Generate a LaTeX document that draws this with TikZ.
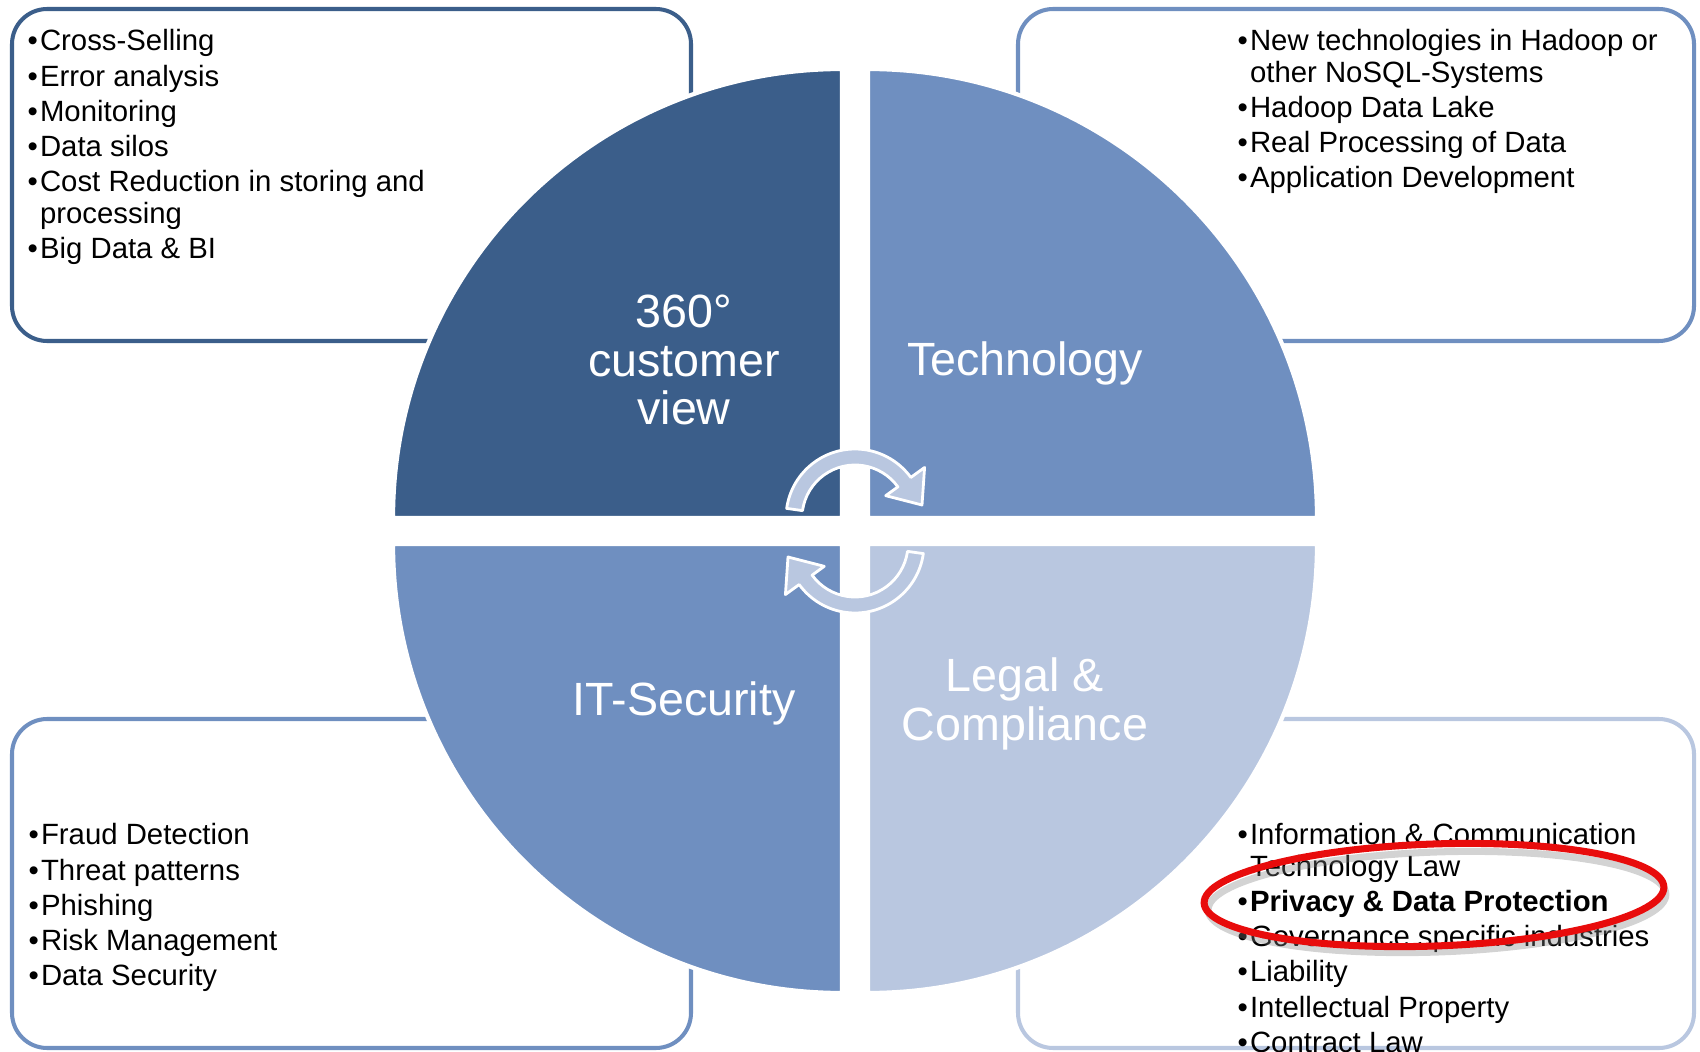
\documentclass[tikz,border=0pt]{standalone}
\usepackage{fontspec}
\setmainfont{Liberation Sans}
\definecolor{quaddark}{RGB}{59,94,138}
\definecolor{quadmid}{RGB}{111,143,192}
\definecolor{quadlight}{RGB}{185,199,224}
\definecolor{ringred}{RGB}{232,12,12}
\newcommand{\nextitem}{\\[1.07pt]}
\newcommand{\wrapped}{\hphantom{•\kern0.6pt}}
\newcommand{\bul}{•\kern0.6pt}

\begin{document}
\begin{tikzpicture}[x=0.01cm,y=0.01cm,
  listbox/.style={rounded corners=10pt, line width=1.15pt},
  quad/.style={draw=white, line width=1.2pt},
  qlabel/.style={white, align=center, inner sep=0, font=\fontsize{13.26}{13.9}\selectfont},
  itemlist/.style={anchor=north west, align=left, inner sep=0, font=\fontsize{8.34}{8.93}\selectfont},
  turnarrow/.style={fill=quadlight, draw=white, line width=0.8pt, line join=round}]
\useasboundingbox (0,0) rectangle (1700,-1052);

\draw[listbox, quaddark] (12,-9) rectangle (691,-341);
\draw[listbox, quadmid] (1018,-9) rectangle (1694,-341);
\draw[listbox, quadmid] (12,-719) rectangle (691,-1048);
\draw[listbox, quadlight] (1018,-719) rectangle (1694,-1048);

\filldraw[quad, fill=quaddark] (842,-518) -- ++(-449,0) arc[start angle=180, end angle=90, radius=449] -- cycle;
\filldraw[quad, fill=quadmid] (868,-518) -- ++(0,449) arc[start angle=90, end angle=0, radius=449] -- cycle;
\filldraw[quad, fill=quadmid] (842,-544) -- ++(-449,0) arc[start angle=180, end angle=270, radius=449] -- cycle;
\filldraw[quad, fill=quadlight] (868,-544) -- ++(449,0) arc[start angle=0, end angle=-90, radius=449] -- cycle;

\foreach \a in {0,180}{
  \begin{scope}[shift={(855,-531)}, rotate=\a, shift={(0,13)}]
    \filldraw[turnarrow] (172:69) arc[start angle=172, end angle=36, radius=69]
      -- (36:86) -- (67,13) -- (36:38) -- (36:53)
      arc[start angle=36, end angle=172, radius=53] -- cycle;
  \end{scope}
}

\node[qlabel] (custview) at (684,-360) {360°\\customer\\view};
\node[qlabel] (tech) at (1025,-363) {Technology};
\node[qlabel] (itsec) at (684,-703) {IT-Security};
\node[qlabel] (legal) at (1025,-704) {Legal \&\\Compliance};

\node[itemlist] (usecases) at (27,-29) {\bul Cross-Selling\nextitem
  \bul Error analysis\nextitem
  \bul Monitoring\nextitem
  \bul Data silos\nextitem
  \bul Cost Reduction in storing and\\
  \wrapped processing\nextitem
  \bul Big Data \& BI};
\node[itemlist] (techlist) at (1237,-29) {\bul New technologies in Hadoop or\\
  \wrapped other NoSQL-Systems\nextitem
  \bul Hadoop Data Lake\nextitem
  \bul Real Processing of Data\nextitem
  \bul Application Development};
\node[itemlist] (seclist) at (28,-823) {\bul Fraud Detection\nextitem
  \bul Threat patterns\nextitem
  \bul Phishing\nextitem
  \bul Risk Management\nextitem
  \bul Data Security};
\node[itemlist] (lawlist) at (1237,-823) {\bul Information \& Communication\\
  \wrapped Technology Law\nextitem
  \bul\textbf{Privacy \& Data Protection}\nextitem
  \bul Governance specific industries\nextitem
  \bul Liability\nextitem
  \bul Intellectual Property\nextitem
  \bul Contract Law};

\draw[gray, opacity=0.35, line width=2pt, rotate around={2:(1437,-902)}] (1437,-902) ellipse[x radius=229, y radius=50];
\draw[ringred, line width=2pt, rotate around={2:(1434,-895)}] (1434,-895) ellipse[x radius=230, y radius=51];
\end{tikzpicture}
\end{document}
